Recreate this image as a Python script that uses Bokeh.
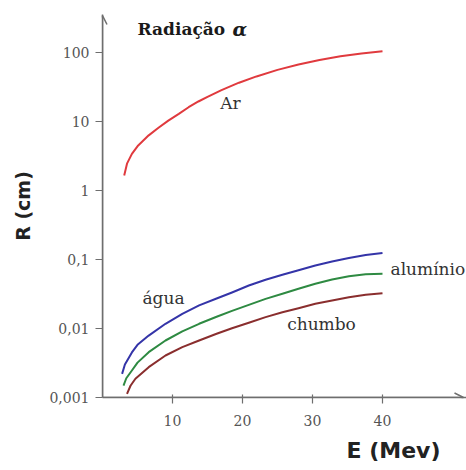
import math
from bokeh.plotting import figure
from bokeh.models import (Label, Arrow, OpenHead, FixedTicker, CustomJSTickFormatter,
                          Range1d, Title)
from bokeh.embed import file_html
from bokeh.resources import INLINE

# ---------------- data ----------------
E_ar = [3.1, 3.5, 4.2, 5.1, 6.6, 8.0, 9.4, 10.9, 12.3, 13.7, 15.0, 17.0, 19.5, 22.0, 25.0, 28.0, 31.0,
        34.0, 37.0, 40.0]
R_ar = [1.65, 2.45, 3.4, 4.5, 6.3, 8.1, 10.3, 12.9, 16.1, 19.5, 22.8, 28.5, 36.5, 45.0, 56.0, 67.0, 78.0,
        88.0, 97.0, 104.0]

E_agua = [2.8, 3.2, 4.2, 5.0, 6.6, 9.0, 11.4, 13.8, 16.3, 18.5, 20.9, 23.3, 25.7, 28.0, 30.4, 32.8, 35.2,
          37.6, 40.0]
R_agua = [0.0022, 0.003, 0.0045, 0.0058, 0.0079, 0.0117, 0.0163, 0.0216, 0.0272, 0.0333, 0.042, 0.0508,
          0.060, 0.070, 0.0818, 0.0935, 0.105, 0.116, 0.124]

E_alum = [3.0, 3.4, 4.2, 5.0, 6.6, 9.0, 11.4, 13.8, 16.3, 18.5, 20.9, 23.3, 25.7, 28.0, 30.4, 32.8, 35.2,
          37.6, 40.0]
R_alum = [0.00149, 0.0019, 0.00246, 0.0032, 0.00454, 0.0067, 0.0091, 0.0117, 0.0148, 0.018, 0.022, 0.0269,
          0.0318, 0.0376, 0.0444, 0.0513, 0.0573, 0.0612, 0.062]

E_chumbo = [3.5, 4.0, 4.7, 6.6, 9.0, 11.4, 13.8, 16.3, 18.5, 20.9, 23.3, 25.7, 28.0, 30.4, 32.8, 35.2,
            37.6, 40.0]
R_chumbo = [0.00113, 0.00148, 0.00187, 0.00275, 0.00406, 0.00536, 0.0067, 0.00838, 0.0101, 0.0121,
            0.0146, 0.0172, 0.0197, 0.0228, 0.0255, 0.0284, 0.0308, 0.0325]

x_ticks = [10, 20, 30, 40]
y_ticks = [0.001, 0.01, 0.1, 1, 10, 100]

title_text = "Radiação"
alpha_text = "α"
x_label = "E (Mev)"
y_label = "R (cm)"
series_labels = ["Ar", "água", "alumínio", "chumbo"]

# ---------------- layout ----------------
W, H = 466, 470
LEFT, RIGHT, TOP, BOTTOM = 102, 0, 14, 73
PX_PER_UNIT = 7.0
PX_PER_DEC = 69.0
frame_w = W - LEFT - RIGHT
frame_h = H - TOP - BOTTOM
x_end = frame_w / PX_PER_UNIT
y_start = 0.001
y_end = 10 ** (math.log10(y_start) + frame_h / PX_PER_DEC)


def dx(px):
    return (px - LEFT) / PX_PER_UNIT


def dy(py):
    return 10 ** (math.log10(y_start) + (TOP + frame_h - py) / PX_PER_DEC)


p = figure(width=W, height=H, y_axis_type="log",
           x_range=Range1d(0, x_end), y_range=Range1d(y_start, y_end),
           output_backend="svg", toolbar_location=None,
           min_border_left=LEFT, min_border_right=RIGHT,
           min_border_top=TOP, min_border_bottom=BOTTOM)
p.outline_line_color = None
p.grid.visible = False
p.background_fill_color = "white"
p.border_fill_color = "white"

AXIS_COL = "#6e6e6e"
TICK_COL = "#555555"
for ax in (p.xaxis[0], p.yaxis[0]):
    ax.axis_line_color = AXIS_COL
    ax.axis_line_width = 1.5
    ax.major_tick_line_color = AXIS_COL
    ax.major_tick_line_width = 1.2
    ax.minor_tick_line_color = None
    ax.major_label_text_font = "DejaVu Serif"
    ax.major_label_text_font_size = "14px"
    ax.major_label_text_color = TICK_COL

p.xaxis[0].ticker = FixedTicker(ticks=x_ticks)
p.xaxis[0].major_tick_in = 3
p.xaxis[0].major_tick_out = 6
p.xaxis[0].major_label_standoff = 11

p.yaxis[0].ticker = FixedTicker(ticks=y_ticks)
p.yaxis[0].major_tick_in = 0
p.yaxis[0].major_tick_out = 7
p.yaxis[0].major_label_standoff = 6
p.yaxis[0].formatter = CustomJSTickFormatter(code="return String(tick).replace('.', ',');")
p.yaxis[0].axis_label = y_label
p.yaxis[0].axis_label_text_font = "DejaVu Sans"
p.yaxis[0].axis_label_text_font_style = "bold"
p.yaxis[0].axis_label_text_font_size = "19px"
p.yaxis[0].axis_label_text_color = "#222222"
p.yaxis[0].axis_label_standoff = 12

p.add_layout(Title(text=x_label, align="right", offset=26, text_font="DejaVu Sans",
                   text_font_style="bold", text_font_size="22px", text_color="#222222",
                   standoff=15), "below")

# axis arrows
p.add_layout(Arrow(end=OpenHead(size=9, line_color=AXIS_COL, line_width=1.5),
                   x_start=0, y_start=y_start, x_end=0, y_end=dy(15),
                   line_color=AXIS_COL, line_width=1.5))
p.add_layout(Arrow(end=OpenHead(size=9, line_color=AXIS_COL, line_width=1.5),
                   x_start=0, y_start=y_start, x_end=dx(463), y_end=y_start,
                   line_color=AXIS_COL, line_width=1.5))

# curves
p.line(E_ar, R_ar, line_color="#e03a3e", line_width=2, line_join="round")
p.line(E_agua, R_agua, line_color="#3434a8", line_width=2, line_join="round")
p.line(E_alum, R_alum, line_color="#2e8a42", line_width=2, line_join="round")
p.line(E_chumbo, R_chumbo, line_color="#8a2e2e", line_width=2, line_join="round")

# texts
LBL_COL = "#333333"
lbl_kw = dict(text_font="DejaVu Serif", text_font_size="17px", text_color=LBL_COL,
              text_baseline="middle")
p.add_layout(Label(x=dx(230), y=dy(102), text=series_labels[0], text_align="center", **lbl_kw))
p.add_layout(Label(x=dx(163), y=dy(297), text=series_labels[1], text_align="center", **lbl_kw))
p.add_layout(Label(x=dx(390), y=dy(268), text=series_labels[2], text_align="left", **lbl_kw))
p.add_layout(Label(x=dx(321), y=dy(323), text=series_labels[3], text_align="center", **lbl_kw))

p.add_layout(Label(x=dx(137), y=dy(28), text=title_text, text_align="left", text_baseline="middle",
                   text_font="DejaVu Serif", text_font_style="bold", text_font_size="17px",
                   text_color="#1a1a1a"))
p.add_layout(Label(x=dx(232), y=dy(28), text=alpha_text, text_align="left", text_baseline="middle",
                   text_font="DejaVu Serif", text_font_style="bold italic", text_font_size="19px",
                   text_color="#1a1a1a"))

open("out.html", "w").write(file_html(p, INLINE))
